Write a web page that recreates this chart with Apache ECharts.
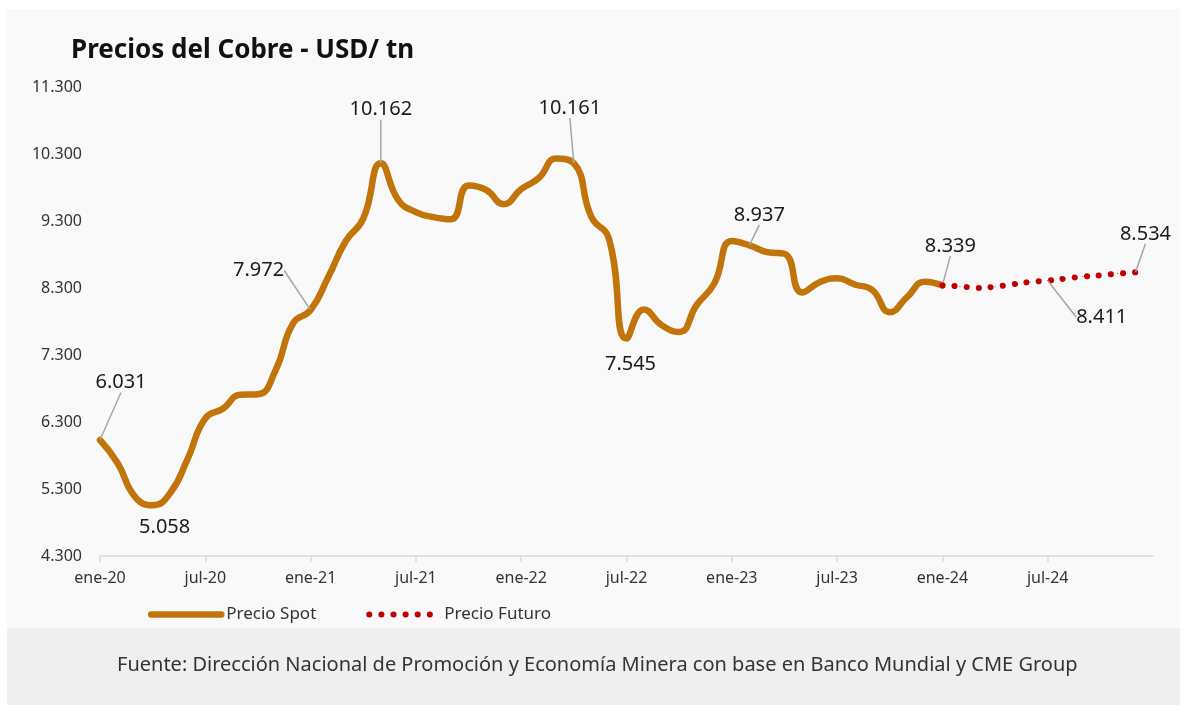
<!DOCTYPE html>
<html>
<head>
<meta charset="utf-8">
<title>Precios del Cobre</title>
<script src="https://cdn.jsdelivr.net/npm/echarts@6/dist/echarts.min.js"></script>
<style>
  html, body { margin: 0; padding: 0; background: #ffffff; }
  #main { width: 1180px; height: 705px; }
</style>
</head>
<body>
<div id="main"></div>
<script>
// categorias mensuales ene-20 ... ene-25
var meses = ['ene', 'feb', 'mar', 'abr', 'may', 'jun', 'jul', 'ago', 'sep', 'oct', 'nov', 'dic'];
var categorias = [];
for (var a = 20; a <= 24; a++) {
  meses.forEach(function (m) { categorias.push(m + '-' + a); });
}
categorias.push('ene-25');

// Precio Spot (ene-20 a ene-24), USD/tn
var precioSpot = [
  6031, 5687, 5183, 5058, 5240, 5755, 6354, 6497, 6705, 6713, 7069, 7772,
  7972, 8461, 8998, 9336, 10162, 9612, 9433, 9358, 9325, 9829, 9765, 9551,
  9776, 9941, 10231, 10161, 9363, 9034, 7545, 7980, 7746, 7644, 8046, 8367,
  9000, 8937, 8836, 8811, 8234, 8386, 8446, 8352, 8271, 7939, 8167, 8394,
  8339
];

// Precio Futuro (ene-24 a dic-24)
var inicioFuturo = 48;
var precioFuturo = [8339, 8325, 8300, 8320, 8355, 8390, 8411, 8440, 8470, 8490, 8515, 8534];

// etiquetas: indice -> desplazamiento del texto
var etiquetasSpot = {
  0: { dx: 21, dy: -42, linea: true },
  3: { dx: 12, dy: 38, linea: false },
  12: { dx: -52, dy: -24, linea: true },
  16: { dx: 0, dy: -38, linea: true },
  27: { dx: -4, dy: -40, linea: true },
  30: { dx: 4, dy: 41, linea: false },
  37: { dx: 10, dy: -15, linea: true },
  48: { dx: 8, dy: -24, linea: true }
};
var etiquetasFuturo = {
  6: { dx: 54, dy: 52, linea: true },
  11: { dx: 10, dy: -23, linea: true }
};

function miles(v) {
  return String(v).replace(/\B(?=(\d{3})+(?!\d))/g, '.');
}

function armarDatos(valores, etiquetas, desde) {
  var datos = [];
  for (var k = 0; k < desde; k++) datos.push(null);
  valores.forEach(function (v, idx) {
    var e = etiquetas[idx];
    if (e) {
      datos.push({ value: v, label: { show: true }, labelLine: { show: e.linea } });
    } else {
      datos.push(v);
    }
  });
  return datos;
}

var chart = echarts.init(document.getElementById('main'));

var estiloEtiqueta = {
  show: false,
  fontFamily: 'Noto Sans',
  fontSize: 20,
  color: '#1a1a1a',
  formatter: function (p) { return miles(p.value); }
};
var lineaGuia = {
  show: false,
  lineStyle: { color: '#a6a6a6', width: 1.5 }
};

var option = {
  backgroundColor: '#ffffff',
  animation: false,
  textStyle: { fontFamily: 'Noto Sans' },
  graphic: [
    { type: 'rect', z: -10, shape: { x: 7, y: 9, width: 1173, height: 619 }, style: { fill: '#f9f9f9' } },
    { type: 'rect', z: -10, shape: { x: 7, y: 628, width: 1173, height: 77 }, style: { fill: '#efefef' } },
    {
      type: 'text', left: 117, top: 655,
      style: {
        text: 'Fuente: Dirección Nacional de Promoción y Economía Minera con base en Banco Mundial y CME Group',
        fontFamily: 'Noto Sans', fontSize: 20, fill: '#333333'
      }
    }
  ],
  title: {
    text: 'Precios del Cobre - USD/ tn',
    left: 66,
    top: 33,
    textStyle: { fontFamily: 'Noto Sans', fontSize: 26, fontWeight: 'bold', color: '#111111' }
  },
  legend: {
    left: 143,
    top: 601,
    itemWidth: 70,
    itemHeight: 14,
    itemGap: 50,
    itemStyle: { opacity: 0 },
    lineStyle: { width: 'inherit' },
    textStyle: { fontFamily: 'Noto Sans', fontSize: 17, color: '#333333' },
    data: ['Precio Spot', 'Precio Futuro']
  },
  grid: { left: 100, right: 27, top: 87, bottom: 149 },
  xAxis: {
    type: 'category',
    boundaryGap: false,
    data: categorias,
    axisLine: { lineStyle: { color: '#d9d9d9', width: 1.5 } },
    axisTick: { interval: 5, length: 6, lineStyle: { color: '#d9d9d9', width: 1.5 } },
    axisLabel: {
      interval: 5,
      showMaxLabel: false,
      margin: 14,
      fontFamily: 'Noto Sans',
      fontSize: 16,
      color: '#333333'
    },
    splitLine: { show: false }
  },
  yAxis: {
    type: 'value',
    min: 4300,
    max: 11300,
    interval: 1000,
    axisLine: { show: false },
    axisTick: { show: false },
    splitLine: { show: false },
    axisLabel: {
      margin: 18,
      fontFamily: 'Noto Sans',
      fontSize: 16,
      color: '#333333',
      formatter: function (v) { return miles(v); }
    }
  },
  series: [
    {
      name: 'Precio Spot',
      type: 'line',
      smooth: 0.5,
      showSymbol: true,
      symbol: 'circle',
      symbolSize: 1,
      itemStyle: { color: '#c0740a' },
      lineStyle: { color: '#c0740a', width: 6.5, cap: 'round' },
      label: estiloEtiqueta,
      labelLine: lineaGuia,
      labelLayout: function (p) {
        var e = etiquetasSpot[p.dataIndex];
        return e ? { dx: e.dx, dy: e.dy } : {};
      },
      data: armarDatos(precioSpot, etiquetasSpot, 0),
      z: 3
    },
    {
      name: 'Precio Futuro',
      type: 'line',
      smooth: 0.5,
      showSymbol: true,
      symbol: 'circle',
      symbolSize: 1,
      itemStyle: { color: '#c00000' },
      lineStyle: { color: '#c00000', width: 6, type: [0.1, 12], cap: 'round' },
      label: estiloEtiqueta,
      labelLine: lineaGuia,
      labelLayout: function (p) {
        var e = etiquetasFuturo[p.dataIndex - inicioFuturo];
        return e ? { dx: e.dx, dy: e.dy } : {};
      },
      data: armarDatos(precioFuturo, etiquetasFuturo, inicioFuturo),
      z: 4
    }
  ]
};

chart.setOption(option);
</script>
</body>
</html>
